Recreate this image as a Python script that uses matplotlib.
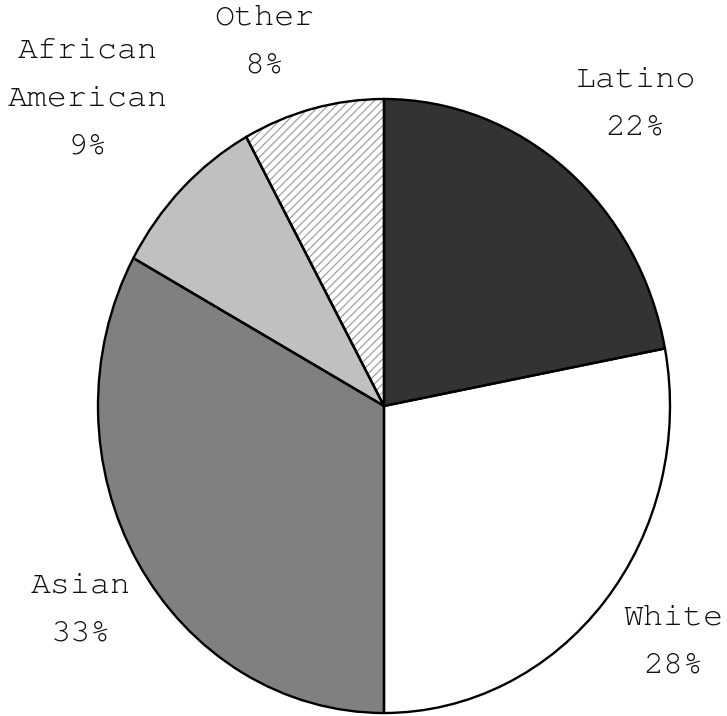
import numpy as np
import matplotlib
matplotlib.use("Agg")
import matplotlib.pyplot as plt

# Data
groups = ["Latino", "White", "Asian", "African\nAmerican", "Other"]
shares = [22, 28, 33, 9, 8]
colors = ["#333333", "#ffffff", "#808080", "#c0c0c0", "#ffffff"]
hatches = [None, None, None, None, "////"]
# where each label sits: distance from centre (in radii) and a small angle nudge
label_dist = [1.32, 1.27, 1.25, 1.44, 1.26]
label_nudge = [-2.2, 2.4, 1.4, 1.0, 5.0]

# a Courier-like face if one is around, else Liberation Mono
plt.rcParams["font.family"] = ["Courier New", "Nimbus Mono PS", "FreeMono",
                               "Liberation Mono", "DejaVu Sans Mono"]
plt.rcParams["hatch.linewidth"] = 0.9

W, H, DPI = 727, 716, 100
fig = plt.figure(figsize=(W / DPI, H / DPI), dpi=DPI)
ax = fig.add_axes([0, 0, 1, 1])

# centre of the pie in pixels, and its radii (the original is a bit taller than wide)
cx, cy, rx, ry = 384, 406, 286, 307

# fill layer (hatch drawn in gray)
wedges, _ = ax.pie(shares, colors=colors, startangle=90, counterclock=False,
                   wedgeprops=dict(linewidth=0, edgecolor="#a0a0a0"))
for w, h in zip(wedges, hatches):
    if h:
        w.set_hatch(h)

# outline layer
ax.pie(shares, startangle=90, counterclock=False,
       wedgeprops=dict(fill=False, linewidth=1.7, edgecolor="black"))

for w, name, pct, d, nudge in zip(wedges, groups, shares, label_dist, label_nudge):
    mid = np.deg2rad((w.theta1 + w.theta2) / 2 + nudge)
    ax.text(d * np.cos(mid), d * np.sin(mid), f"{name}\n{pct}%",
            ha="center", va="center", fontsize=24, linespacing=2.1,
            color="#111111")

ax.set_xlim(-cx / rx, (W - cx) / rx)
ax.set_ylim(-(H - cy) / ry, cy / ry)
ax.set_aspect("auto")
ax.axis("off")

fig.savefig("out.png", dpi=DPI, facecolor="white")
